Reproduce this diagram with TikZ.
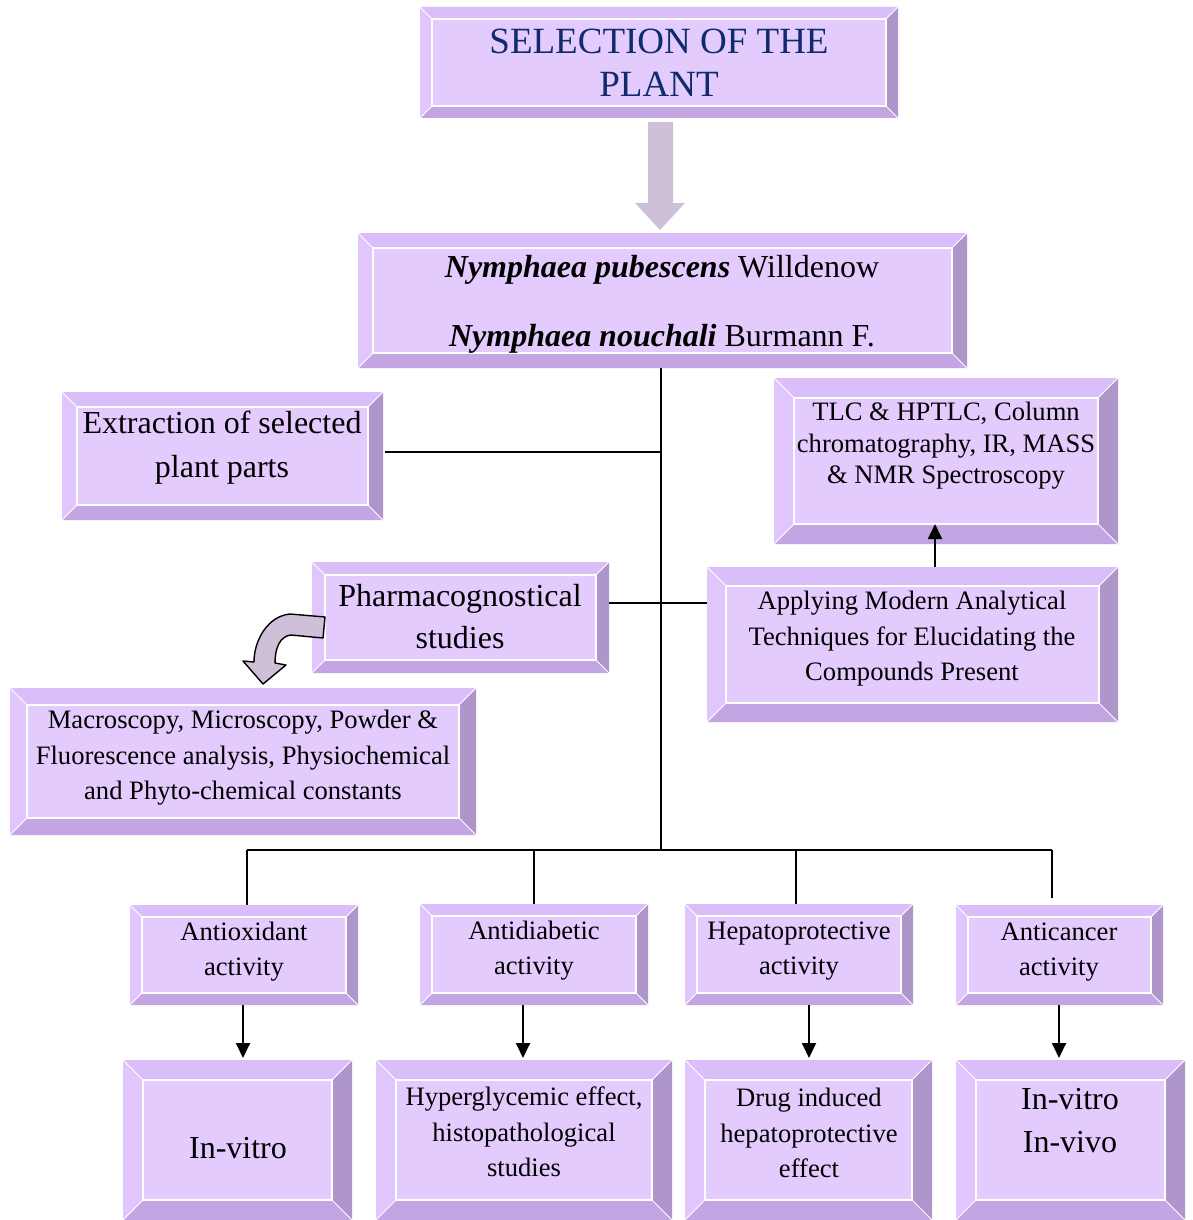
\documentclass[tikz,border=0pt]{standalone}
\usepackage{fontspec}
\setmainfont{Liberation Serif}
\usetikzlibrary{arrows.meta}
\definecolor{bvface}{HTML}{E3CBFD}
\definecolor{bvtop}{HTML}{DABEFA}
\definecolor{bvleft}{HTML}{E0C6FC}
\definecolor{bvright}{HTML}{AE96CB}
\definecolor{bvbot}{HTML}{C4A5E3}
\definecolor{bigarrow}{HTML}{CDC0D8}
\definecolor{navy}{HTML}{102A6B}
\tikzset{
  boxnode/.style={inner sep=0pt, outer sep=0pt},
  txt/.style={align=center, inner sep=0pt, text=black},
  conn/.style={black, line width=1.8pt},
  thinconn/.style={black, line width=1.4pt},
  darrow/.style={black, line width=1.8pt, -{Triangle[width=14pt,length=15pt]}},
}
\newcommand\bbox[6]{%
 \fill[bvtop] (#2,#3) -- (#4,#3) -- ({#4-#6},{#3+#6}) -- ({#2+#6},{#3+#6}) -- cycle;
 \fill[bvbot] (#2,#5) -- (#4,#5) -- ({#4-#6},{#5-#6}) -- ({#2+#6},{#5-#6}) -- cycle;
 \fill[bvleft] (#2,#3) -- ({#2+#6},{#3+#6}) -- ({#2+#6},{#5-#6}) -- (#2,#5) -- cycle;
 \fill[bvright] (#4,#3) -- ({#4-#6},{#3+#6}) -- ({#4-#6},{#5-#6}) -- (#4,#5) -- cycle;
 \fill[bvface] ({#2+#6},{#3+#6}) rectangle ({#4-#6},{#5-#6});
 \draw[white, line width=1.2pt] ({#2+#6},{#3+#6}) rectangle ({#4-#6},{#5-#6});
 \draw[white, line width=0.9pt] (#2,#3) -- ({#2+#6},{#3+#6}) (#4,#3) -- ({#4-#6},{#3+#6}) (#2,#5) -- ({#2+#6},{#5-#6}) (#4,#5) -- ({#4-#6},{#5-#6});
 \node[boxnode, minimum width={(#4-#2)*1pt}, minimum height={(#5-#3)*1pt}] (#1) at ({(#2+#4)/2},{(#3+#5)/2}) {};
}
\begin{document}
\begin{tikzpicture}[x=1pt,y=-1pt]
\useasboundingbox[fill=white] (0,0) rectangle (1193,1220);

% boxes
\bbox{title}{420}{7}{898}{118}{12}
\bbox{nym}{358}{233}{967}{368}{15}
\bbox{ext}{62}{392}{383}{520}{15}
\bbox{tlc}{774}{378}{1118}{544}{20}
\bbox{pharm}{312}{562}{609}{673}{13}
\bbox{apply}{707}{567}{1118}{722}{19}
\bbox{macro}{10}{688}{476}{835}{17}
\bbox{antiox}{130}{905}{358}{1005}{12}
\bbox{antidia}{420}{904}{648}{1005}{12}
\bbox{hepato}{685}{904}{913}{1005}{12}
\bbox{antican}{956}{905}{1163}{1005}{12}
\bbox{invitro}{123}{1060}{352}{1220}{20}
\bbox{hyper}{376}{1060}{672}{1220}{20}
\bbox{drug}{685}{1060}{932}{1220}{20}
\bbox{vivo}{956}{1060}{1185}{1220}{20}

% texts
\node[txt, text=navy, font=\fontsize{37}{43}\selectfont] (titlet) at (659,63) {SELECTION OF THE\\PLANT};
\node[txt, font=\fontsize{32}{69}\selectfont] (nymt) at (662,304) {\textbf{\textit{Nymphaea pubescens}} Willdenow\\\textbf{\textit{Nymphaea nouchali}} Burmann F.};
\node[txt, font=\fontsize{32}{44}\selectfont] (extt) at (222,448) {Extraction of selected\\plant parts};
\node[txt, font=\fontsize{26.6}{31.5}\selectfont] (tlct) at (946,446) {TLC \& HPTLC, Column\\chromatography, IR, MASS\\\& NMR Spectroscopy};
\node[txt, font=\fontsize{32}{42}\selectfont] (pharmt) at (460,617) {Pharmacognostical\\studies};
\node[txt, font=\fontsize{26.6}{35.5}\selectfont] (applyt) at (912,639) {Applying Modern Analytical\\Techniques for Elucidating the\\Compounds Present};
\node[txt, font=\fontsize{26.6}{35.5}\selectfont] (macrot) at (243,758) {Macroscopy, Microscopy, Powder \&\\Fluorescence analysis, Physiochemical\\and Phyto-chemical constants};
\node[txt, font=\fontsize{26.6}{35}\selectfont] (antioxt) at (244,952) {Antioxidant\\activity};
\node[txt, font=\fontsize{26.6}{35}\selectfont] (antidiat) at (534,951) {Antidiabetic\\activity};
\node[txt, font=\fontsize{26.6}{35}\selectfont] (hepatot) at (799,951) {Hepatoprotective\\activity};
\node[txt, font=\fontsize{26.6}{35}\selectfont] (anticant) at (1059,952) {Anticancer\\activity};
\node[txt, font=\fontsize{32}{43}\selectfont] (invitrot) at (238,1148) {In-vitro};
\node[txt, font=\fontsize{26.6}{35.5}\selectfont] (hypert) at (524,1132) {Hyperglycemic effect,\\histopathological\\studies};
\node[txt, font=\fontsize{26.6}{35.5}\selectfont] (drugt) at (809,1133) {Drug induced\\hepatoprotective\\effect};
\node[txt, font=\fontsize{32}{43}\selectfont] (vivot) at (1070,1121) {In-vitro\\In-vivo};

% big arrow
\fill[bigarrow] (648,122) -- (673,122) -- (673,203) -- (685,203) -- (660,230) -- (635,203) -- (648,203) -- cycle;

% trunk and branches
\coordinate (tbot) at (661,850);
\draw[conn] (nym.south -| tbot) -- (tbot);
\draw[conn] (ext.east) ++(2,-4) coordinate (ee) -- (ee -| tbot);
\coordinate (py) at (0,603);
\draw[conn] (pharm.east |- py) -- (apply.west |- py);
\coordinate (tlcx) at (935,0);
\draw[darrow] (apply.north -| tlcx) -- ([yshift=20pt]tlc.south -| tlcx);

% bottom distribution
\coordinate (hl) at (247,850);
\coordinate (hr) at (1052,850);
\draw[thinconn] (hl) -- (hr);
\draw[thinconn] (hl) -- (antiox.north -| hl);
\draw[thinconn] (534,850) coordinate (d2) -- (antidia.north -| d2);
\draw[thinconn] (796,850) coordinate (d3) -- (hepato.north -| d3);
\draw[thinconn] (hr) -- ([yshift=7pt]antican.north -| hr);

% arrows down
\draw[darrow] ([xshift=-1pt]antiox.south) -- ([xshift=-1pt, yshift=2pt]antiox.south |- invitro.north);
\draw[darrow] ([xshift=-11pt]antidia.south) -- ([xshift=-11pt, yshift=2pt]antidia.south |- hyper.north);
\draw[darrow] ([xshift=10pt]hepato.south) -- ([xshift=10pt, yshift=2pt]hepato.south |- drug.north);
\draw[darrow] ([xshift=-0.5pt]antican.south) -- ([xshift=-0.5pt, yshift=2pt]antican.south |- vivo.north);

% curved arrow
\draw[fill=bigarrow, line width=1.4pt, line join=round] (325,617) -- (290,614) .. controls (268,616) and (254,640) .. (254,662) -- (243,661) -- (263,684) -- (286,665) -- (275,663) .. controls (275,648) and (280,636) .. (291,635) -- (323,638) -- cycle;
\end{tikzpicture}
\end{document}
